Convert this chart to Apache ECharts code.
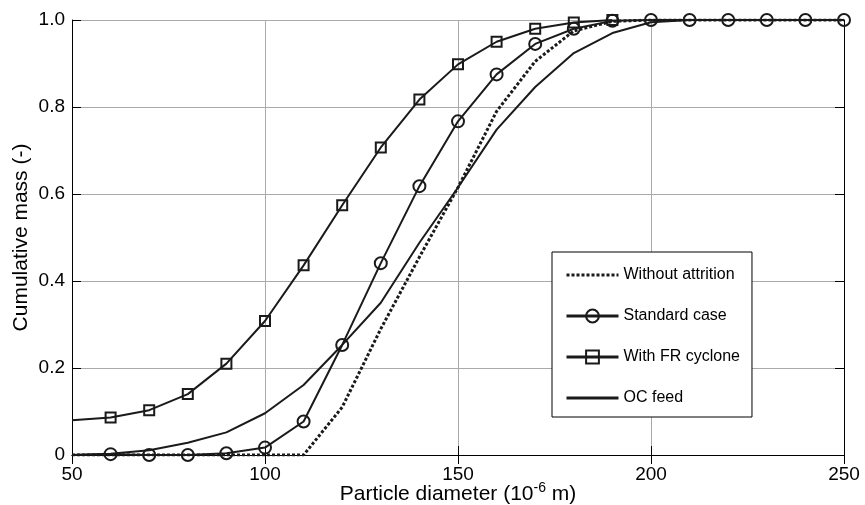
<!DOCTYPE html>
<html><head><meta charset="utf-8">
<script src="https://cdn.jsdelivr.net/npm/echarts@6/dist/echarts.min.js"></script>
<style>html,body{margin:0;padding:0;background:#fff}#c{width:865px;height:505px}</style>
</head><body><div id="c"></div>
<script>
// Data
const xCat = [50,60,70,80,90,100,110,120,130,140,150,160,170,180,190,200,210,220,230,240,250];
const withoutAttrition = [0,0,0,0,0,0,0,0.11,0.29,0.455,0.615,0.79,0.905,0.975,0.997,1,1,1,1,1,1];
const standardCase = [0,0.002,0,0,0.004,0.017,0.077,0.253,0.441,0.618,0.767,0.875,0.945,0.980,0.998,1,1,1,1,1,1];
const xSquare = [50,60,70,80,90,100,110,120,130,140,150,160,170,180,190];
const withFRCyclone = [0.08,0.086,0.103,0.140,0.210,0.308,0.436,0.574,0.707,0.817,0.898,0.950,0.980,0.994,1.0];
const ocFeed = [0,0.003,0.011,0.028,0.052,0.096,0.161,0.253,0.350,0.488,0.615,0.748,0.846,0.924,0.970,0.995,1,1,1,1,1];
const xTicks = [50,100,150,200,250];
const yTicks = [0,0.2,0.4,0.6,0.8,1.0];
const legendNames = ['Without attrition','Standard case','With FR cyclone','OC feed'];

const FONT = 'Liberation Sans, Arial, sans-serif';
const INK = '#1a1a1a';
function pts(xs, ys, hideFirst){
  return xs.map((x,i)=> (hideFirst && i===0) ? {value:[x,ys[i]], symbol:'none'} : [x,ys[i]]);
}
const chart = echarts.init(document.getElementById('c'), null, {renderer:'canvas'});
const xBase = {type:'value', min:xTicks[0], max:xTicks[xTicks.length-1], interval:xTicks[1]-xTicks[0]};
const yBase = {type:'value', min:yTicks[0], max:yTicks[yTicks.length-1], interval:yTicks[1]-yTicks[0]};
const noSym = {color:'rgba(0,0,0,0)', borderWidth:0, opacity:0};
const legLine = {width:3, color:INK};
chart.setOption({
  animation:false,
  backgroundColor:'#fff',
  grid:{left:72, right:21, top:20, bottom:50, containLabel:false, outerBoundsMode:'none'},
  legend:{
    orient:'vertical', left:552, top:252,
    padding:[15,12,11,13], itemGap:25, itemWidth:52, itemHeight:16,
    borderColor:'#000', borderWidth:1, backgroundColor:'#fff',
    textStyle:{fontFamily:FONT, fontSize:16, color:'#000'},
    data:[
      {name:legendNames[0], itemStyle:noSym, lineStyle:{width:3, color:INK, type:[3,2]}},
      {name:legendNames[1], lineStyle:legLine},
      {name:legendNames[2], lineStyle:legLine},
      {name:legendNames[3], itemStyle:noSym, lineStyle:legLine}
    ]
  },
  xAxis:[{
    ...xBase, position:'bottom',
    name:'{a|Particle diameter (10}{s|-6}{a| m)}', nameLocation:'middle', nameGap:26,
    nameMoveOverlap:false,
    nameTextStyle:{rich:{
      a:{fontFamily:FONT,fontSize:21,color:'#000',lineHeight:24,verticalAlign:'bottom'},
      s:{fontFamily:FONT,fontSize:14,color:'#000',lineHeight:24,verticalAlign:'top'}}},
    axisLine:{show:true, lineStyle:{color:'#000', width:1}},
    axisTick:{show:true, inside:true, length:9, lineStyle:{color:'#000'}},
    axisLabel:{fontFamily:FONT, fontSize:19, color:'#000', margin:10},
    splitLine:{show:true, lineStyle:{color:'#aaa', width:1}}
  },{
    ...xBase, position:'top',
    axisLine:{show:true, lineStyle:{color:'#000', width:1}},
    axisTick:{show:true, inside:true, length:9, lineStyle:{color:'#000'}},
    axisLabel:{show:false}, splitLine:{show:false}
  }],
  yAxis:[{
    ...yBase, position:'left',
    name:'Cumulative mass (-)', nameLocation:'middle', nameGap:40, nameMoveOverlap:false,
    nameTextStyle:{fontFamily:FONT, fontSize:21, color:'#000'},
    axisLine:{show:true, lineStyle:{color:'#000', width:1}},
    axisTick:{show:true, inside:true, length:9, lineStyle:{color:'#000'}},
    axisLabel:{fontFamily:FONT, fontSize:19, color:'#000', margin:7,
      formatter:v=> v===0 ? '0' : v.toFixed(1)},
    splitLine:{show:true, lineStyle:{color:'#aaa', width:1}}
  },{
    ...yBase, position:'right',
    axisLine:{show:true, lineStyle:{color:'#000', width:1}},
    axisTick:{show:true, inside:true, length:9, lineStyle:{color:'#000'}},
    axisLabel:{show:false}, splitLine:{show:false}
  }],
  series:[
    {name:legendNames[3], type:'line', data:pts(xCat, ocFeed), showSymbol:false, symbol:'none',
     lineStyle:{color:INK, width:2}, itemStyle:{color:INK}, z:2},
    {name:legendNames[0], type:'line', data:pts(xCat, withoutAttrition), showSymbol:false, symbol:'none',
     lineStyle:{color:INK, width:3, type:[3,2]}, itemStyle:{color:INK}, z:2},
    {name:legendNames[2], type:'line', data:pts(xSquare, withFRCyclone, true), symbol:'rect', symbolSize:10,
     lineStyle:{color:INK, width:2}, itemStyle:{color:'rgba(255,255,255,0)', borderColor:INK, borderWidth:2}, z:3},
    {name:legendNames[1], type:'line', data:pts(xCat, standardCase, true), symbol:'circle', symbolSize:12,
     lineStyle:{color:INK, width:2}, itemStyle:{color:'rgba(255,255,255,0)', borderColor:INK, borderWidth:2}, z:4}
  ]
});
</script></body></html>
